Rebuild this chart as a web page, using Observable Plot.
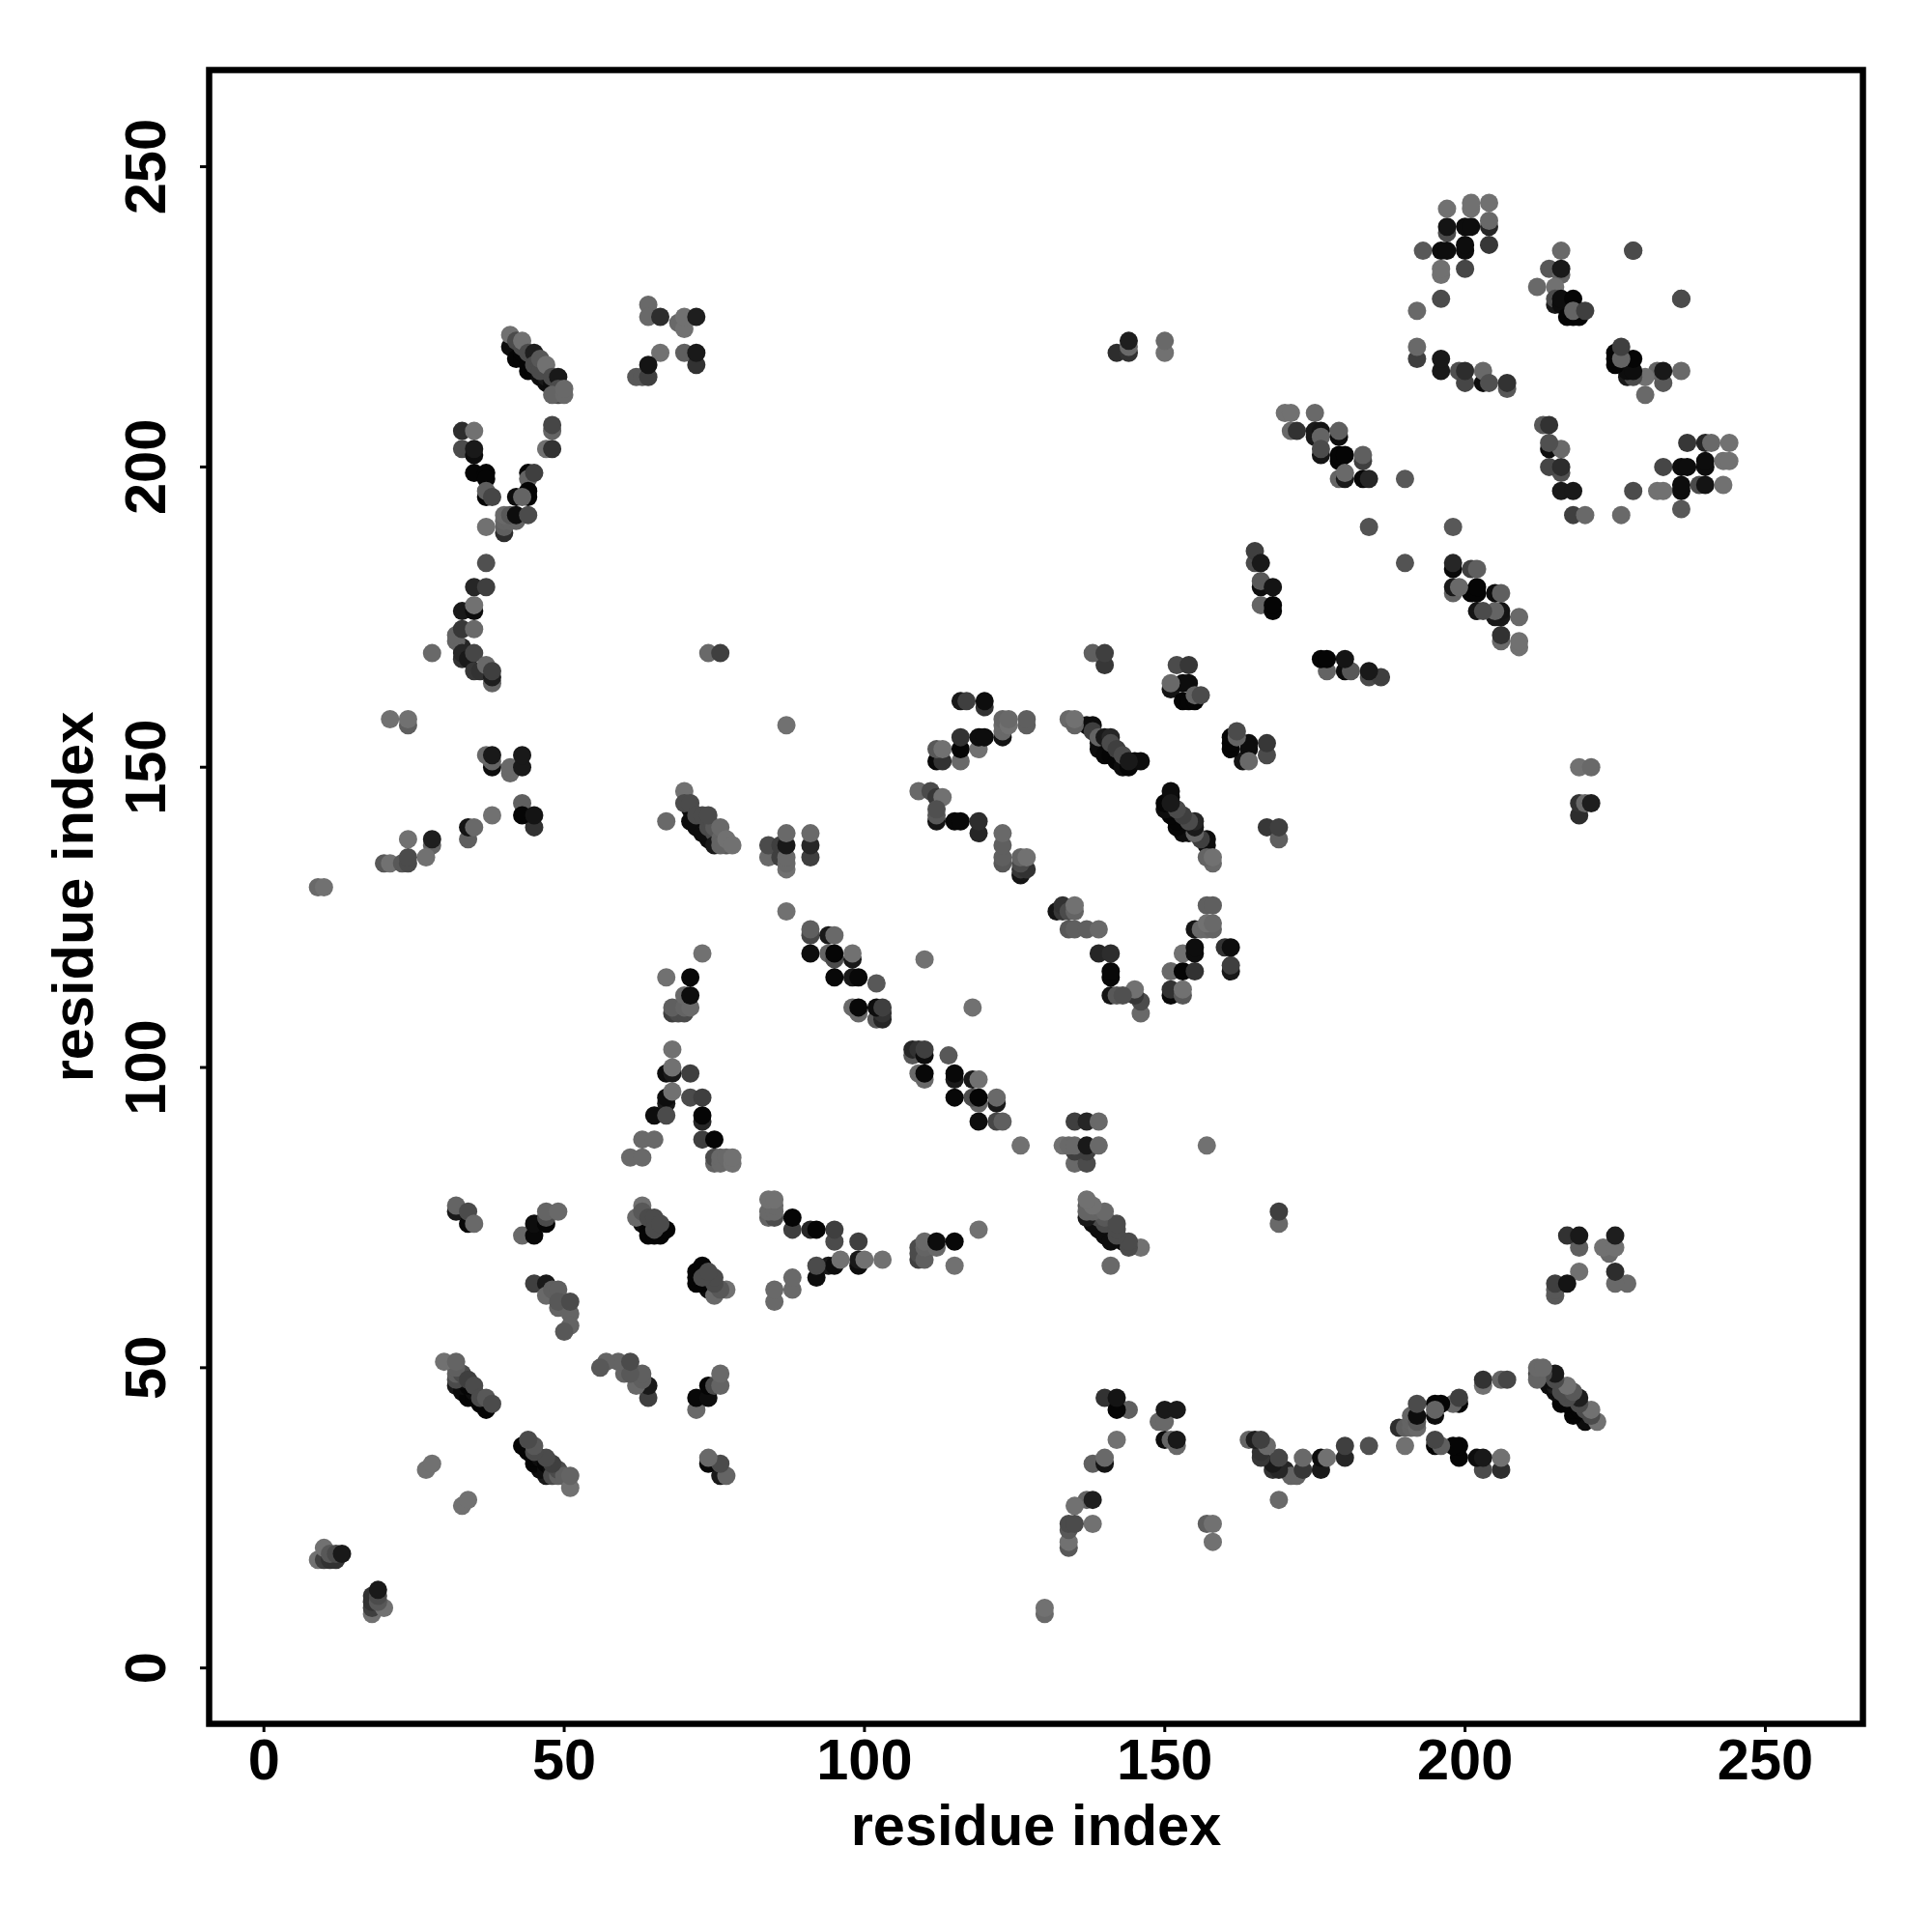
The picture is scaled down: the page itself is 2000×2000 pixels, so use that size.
<!DOCTYPE html>
<html>
<head>
<meta charset="utf-8">
<script src="https://cdn.jsdelivr.net/npm/d3@7"></script>
<script src="https://cdn.jsdelivr.net/npm/@observablehq/plot@0.6"></script>
<style>html,body{margin:0;padding:0;background:#fff}svg{display:block}</style>
</head>
<body>
<div id="chart"></div>
<script>
const axisTicks = [0, 50, 100, 150, 200, 250];
const axisTitle = "residue index";

// contacts above the diagonal: [residue i, residue j, grey level]
const blockA = [[9,18,.45],[10,18,.25],[11,18,.2],[12,18,.2],[10,20,.45],[11,19,.35],[12,19,.3],[13,19,.1],
  [27,33,.45],[28,34,.45]];
const blockB = [[32,47,.1],[33,46,.05],[34,46,.05],[34,45,.02],[35,45,.02],[35,46,.05],[36,44,.02],[37,43,.02],[33,47,.05],[34,47,.02],[33,48,.05],
  [32,48,.3],[32,49,.38],[33,49,.3],[32,50,.38],[30,51,.45],[32,51,.4],[34,48,.25],[35,47,.3],[36,45,.3],[37,45,.35],[38,44,.3]];
const blockC = [[43,72,.42],[45,72,.03],[45,74,.05],[47,74,.02],[47,75,.3],[47,76,.4],[49,76,.42],
  [45,64,.25],[47,64,.1],[47,62,.42],[48,63,.38],[49,63,.38],[49,60,.4],[49,61,.35],[51,59,.4],[51,57,.4],[50,56,.35],[51,61,.3]];
const blockD = [[63,74,.05],[64,73,.02],[64,72,.02],[65,72,.02],[66,72,.02],[67,73,.02],[63,77,.45],[62,75,.42],
  [63,76,.35],[64,75,.3],[65,75,.3],[65,73,.3],[66,74,.3],
  [32,76,.1],[34,74,.03],[32,77,.4],[34,76,.3],[35,74,.42]];
const blockE = [[21,158,.45],[24,157,.38],[24,158,.45],[38,150,.05],[38,151,.4],[37,152,.42],[38,152,.1],
  [41,149,.42],[41,150,.42],[43,150,.1],[43,152,.1],[43,144,.38],[45,140,.2],[43,142,.02],[45,142,.08],
  [38,142,.45],[34,138,.38],[34,140,.08],[35,140,.42],[24,138,.45],[28,137,.4],[28,138,.12],[27,135,.45],
  [20,134,.35],[21,134,.45],[23,134,.35],[24,134,.3],[24,135,.3],[9,130,.42],[10,130,.45]];
const blockF = [[72,140,.05],[72,141,.05],[74,138,.05],[75,138,.1],[70,146,.45],[71,143,.05],[70,144,.3],[71,144,.3],[67,141,.42],[71,141,.05],[73,139,.05],
  [74,140,.3],[75,139,.3],[75,140,.35],[72,142,.3],[73,142,.3],[74,142,.3],[75,137,.1],[76,138,.4],[77,137,.35],[76,137,.4],[76,140,.42],[77,138,.45],[78,137,.45],
  [73,119,.45],[67,115,.45],[71,115,.03],[68,109,.25],[69,109,.3],[70,109,.3],[68,110,.38],[70,110,.4],[71,110,.42],[70,112,.42],[71,112,.05],
  [68,103,.45],[67,99,.05],[68,99,.1],[68,100,.45],[71,99,.25],[67,94,.1],[67,95,.05],[68,96,.45],[71,95,.3],[73,95,.25],
  [73,91,.15],[73,92,.02],[65,92,.05],[67,92,.3],[63,88,.42],[65,88,.42],[61,85,.42],[63,85,.42],[73,88,.25],[75,88,.02],
  [75,84,.4],[75,85,.3],[76,84,.42],[76,85,.42],[77,85,.42],[78,84,.45],[78,85,.45]];
const blockG = [[64,227,.42],[64,225,.42],[66,225,.18],[69,224,.42],[70,223,.45],[70,225,.45],[72,225,.12],
  [66,219,.45],[70,219,.38],[72,217,.2],[72,219,.1],[62,215,.35],[63,215,.35],[64,215,.25],[64,217,.08],
  [41,220,.05],[42,218,.02],[43,218,.02],[43,219,.02],[44,216,.02],[44,217,.02],[45,216,.02],[46,215,.05],[47,214,.05],[47,215,.1],[48,213,.05],[48,214,.05],
  [41,222,.45],[42,221,.3],[43,220,.3],[43,221,.45],[44,219,.3],[45,218,.3],[45,219,.12],[45,217,.3],[46,217,.3],[46,216,.3],[46,218,.35],
  [47,217,.45],[48,215,.3],[49,215,.1],[49,213,.3],[49,212,.3],[48,212,.4],[50,212,.42],[50,213,.42]];
const blockH = [[33,206,.18],[35,206,.45],[33,203,.3],[35,202,.05],[35,203,.1],[35,199,.02],[37,199,.02],[37,198,.02],
  [37,195,.02],[37,196,.38],[38,195,.28],[48,206,.4],[48,207,.28],[47,203,.45],[48,203,.2],
  [44,199,.02],[44,198,.4],[45,199,.25],[44,195,.02],[44,196,.02],[42,195,.05],[43,195,.4],
  [40,189,.18],[40,190,.38],[40,191,.4],[41,191,.4],[42,191,.4],[40,192,.42],[41,192,.35],[42,192,.05],[44,192,.3],
  [37,190,.45],[37,184,.32],[35,180,.15],[37,180,.25],[33,176,.1],[35,176,.05],[35,177,.45],
  [33,170,.15],[32,171,.4],[32,172,.4],[33,173,.22],[35,173,.42],[28,169,.42],
  [33,168,.2],[33,169,.15],[34,168,.1],[35,169,.28],[35,166,.22],[36,166,.2],[38,164,.4],[37,167,.42],[38,165,.12],[38,166,.25],
  [74,169,.42],[76,169,.25]];
const blockI = [[87,157,.45],[84,135,.42],[84,137,.3],[86,135,.25],[86,137,.25],[87,133,.45],[87,134,.42],[87,135,.42],[87,137,.1],[87,139,.42],
  [91,135,.25],[91,137,.15],[91,139,.42],[87,126,.45],[91,122,.28],[91,123,.38],[94,122,.1],[95,122,.42],[91,119,.05],
  [94,119,.4],[95,118,.3],[95,119,.02],[98,118,.1],[98,119,.45],[95,115,.03],[98,115,.1],[99,115,.03],[102,114,.35],[110,118,.45],
  [98,110,.42],[99,109,.42],[99,110,.03],[102,108,.35],[103,108,.15],[103,109,.2],[102,110,.05],[103,110,.25]];
const blockJ = [[109,146,.42],[111,146,.3],[112,145,.22],[113,145,.45],[112,141,.08],[112,142,.35],[112,143,.32],
  [115,141,.03],[116,141,.03],[119,139,.15],[119,141,.18],[123,134,.35],[123,135,.38],[123,137,.38],[123,139,.42],
  [126,132,.08],[126,133,.22],[127,133,.2],[126,134,.3],[126,135,.4],[127,135,.45],
  [112,151,.03],[113,151,.2],[112,153,.35],[113,153,.45],[116,151,.42],[116,153,.02],[119,153,.45],[116,155,.2],
  [119,155,.05],[120,155,.05],[123,155,.08],[123,156,.42],[123,157,.42],[123,158,.4],[124,157,.45],[124,158,.42],[127,157,.38],[127,158,.38]];
const blockK = [[137,157,.05],[138,157,.05],[138,156,.25],[134,158,.42],[135,157,.4],[135,158,.45],
  [139,154,.1],[140,154,.05],[141,153,.05],[142,152,.05],[139,153,.05],[140,152,.03],[141,152,.02],[142,151,.02],[143,151,.03],[143,150,.05],[144,150,.02],[145,151,.03],[146,151,.05],
  [139,155,.4],[140,155,.1],[141,155,.15],[141,154,.3],[142,153,.25],[143,152,.3],[144,151,.1],
  [140,167,.22],[138,169,.38],[140,169,.25],[116,161,.1],[117,161,.25],[120,160,.2],[120,161,.05],
  [151,163,.08],[153,161,.02],[154,161,.02],[155,161,.02],[153,164,.05],[154,164,.05],[151,164,.42],[152,167,.3],[154,167,.22],[155,162,.4],[156,162,.3],
  [142,219,.18],[144,219,.2],[144,220,.42],[144,221,.12],[150,219,.45],[150,221,.42]];
const blockL = [[165,184,.3],[165,186,.25],[166,184,.1],[166,180,.05],[166,181,.35],[168,180,.08],[166,177,.4],[168,176,.02],[168,177,.02],
  [170,209,.45],[171,209,.45],[175,209,.42],[171,206,.42],[172,206,.2],[175,205,.1],[175,206,.1],[176,206,.08],[176,205,.4],
  [179,205,.05],[179,206,.38],[176,202,.08],[176,203,.3],[179,201,.02],[179,202,.02],[180,202,.02],[183,201,.25],[183,202,.38],
  [179,198,.4],[180,198,.1],[180,199,.42],[183,198,.03],[184,198,.15],[190,198,.35],[184,190,.33]];
const blockM = [[197,239,.3],[197,240,.08],[200,240,.05],[201,240,.05],[204,240,.15],[197,243,.45],[201,243,.45],[201,244,.45],[204,241,.42],[204,244,.45],
  [204,237,.22],[193,236,.35],[196,236,.05],[197,236,.05],[200,236,.05],[200,237,.05],[200,233,.28],[196,232,.45],[196,233,.45],[196,228,.3],[192,226,.42],
  [216,236,.42],[214,233,.35],[216,232,.4],[216,233,.1],[212,230,.42],[215,230,.45],[215,227,.1],[215,228,.3],[216,227,.05],[216,228,.05],[218,228,.02],
  [217,225,.02],[218,225,.02],[219,225,.02],[218,226,.4],[220,226,.25],[228,236,.3],[236,228,.3],
  [192,218,.25],[192,220,.42],[196,216,.1],[196,218,.1],[199,216,.32],[200,214,.28],[200,216,.18],[203,214,.05],[203,216,.42],[204,214,.32],[207,213,.35],[207,214,.2]];

const upperHalf = [blockA, blockB, blockC, blockD, blockE, blockF, blockG, blockH, blockI, blockJ, blockK, blockL, blockM].flat();
const contacts = [
  ...upperHalf.map(([i, j, g]) => ({x: j, y: i, g})),
  ...upperHalf.map(([i, j, g]) => ({x: i, y: j, g}))
];
const grey = g => { const v = Math.round(g * 250); return `rgb(${v},${v},${v})`; };

const chart = Plot.plot({
  width: 2000,
  height: 2000,
  marginLeft: 216,
  marginRight: 72,
  marginTop: 72,
  marginBottom: 216,
  style: {fontFamily: "'Liberation Sans', sans-serif", fontWeight: "bold", background: "#fff", color: "#000"},
  x: {domain: [-9.12, 266.25], label: null},
  y: {domain: [-9.3, 266.1], label: null},
  marks: [
    Plot.dot(contacts, {x: "x", y: "y", r: 9.5, fill: d => grey(d.g), stroke: "none"}),
    Plot.frame({stroke: "#000", strokeWidth: 6.5}),
    Plot.axisX({ticks: axisTicks, tickSize: 9, strokeWidth: 3, tickPadding: 6, fontSize: 59.5, tickFormat: d => String(d), label: axisTitle, labelAnchor: "center", labelArrow: "none", labelOffset: 125}),
    Plot.axisY({ticks: axisTicks, tickSize: 9, strokeWidth: 3, tickPadding: 37, fontSize: 59.5, tickRotate: -90, textAnchor: "middle", tickFormat: d => String(d), label: axisTitle, labelAnchor: "center", labelArrow: "none", labelOffset: 163})
  ]
});
document.getElementById("chart").appendChild(chart);
</script>
</body>
</html>
